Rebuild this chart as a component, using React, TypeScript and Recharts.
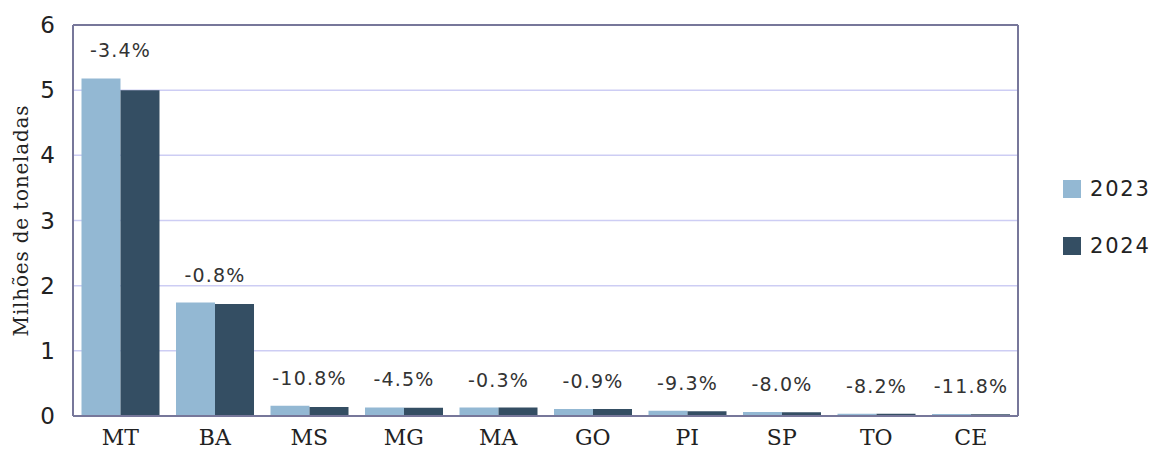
import React from 'react';
import {
  BarChart,
  Bar,
  XAxis,
  YAxis,
  CartesianGrid,
  LabelList,
} from 'recharts';

const states = ['MT', 'BA', 'MS', 'MG', 'MA', 'GO', 'PI', 'SP', 'TO', 'CE'];
const values2023 = [5.18, 1.74, 0.158, 0.132, 0.13, 0.108, 0.082, 0.062, 0.036, 0.03];
const values2024 = [5.0, 1.72, 0.138, 0.126, 0.13, 0.107, 0.074, 0.057, 0.033, 0.027];
const changes = ['-3.4%', '-0.8%', '-10.8%', '-4.5%', '-0.3%', '-0.9%', '-9.3%', '-8.0%', '-8.2%', '-11.8%'];
const yTicks = [0, 1, 2, 3, 4, 5, 6];

const LIGHT = '#93b8d3';
const DARK = '#344e63';
const FRAME = '#77779a';
const GRID = '#cdcdf4';

const data = states.map((s, i) => ({
  state: s,
  y2023: values2023[i],
  y2024: values2024[i],
  change: changes[i],
}));

const ChangeLabel = (props: any) => {
  const { x, y, width, index } = props;
  return (
    <text
      x={x + width}
      y={y - 21}
      textAnchor="middle"
      fill="#333"
      fontSize={19}
      letterSpacing={1.2}
      fontFamily="DejaVu Sans, sans-serif"
    >
      {changes[index]}
    </text>
  );
};

const AxisTitle = (props: any) => {
  const { viewBox } = props;
  const cy = viewBox.y + viewBox.height / 2;
  return (
    <text
      x={28}
      y={cy}
      transform={`rotate(-90, 28, ${cy})`}
      textAnchor="middle"
      fill="#222"
      fontSize={20}
      letterSpacing={0.8}
      fontFamily="DejaVu Serif, serif"
    >
      Milhões de toneladas
    </text>
  );
};

export default function App() {
  return (
    <div style={{ position: 'absolute', left: 0, top: 0, width: 1154, height: 454, background: '#fff' }}>
      <BarChart
        width={1154}
        height={454}
        data={data}
        margin={{ top: 24, right: 135, left: 0, bottom: 0 }}
        barCategoryGap="9%"
        barGap={0}
      >
        <CartesianGrid vertical={false} stroke={GRID} strokeWidth={1.5} />
        <XAxis
          dataKey="state"
          height={38}
          axisLine={{ stroke: FRAME, strokeWidth: 2 }}
          tickLine={false}
          tickSize={0}
          tickMargin={13}
          tick={{ fill: '#222', fontSize: 22, fontFamily: 'DejaVu Serif, serif' }}
          interval={0}
        />
        <XAxis
          xAxisId="top"
          orientation="top"
          dataKey="state"
          height={1}
          axisLine={{ stroke: FRAME, strokeWidth: 2 }}
          tick={false}
          tickLine={false}
        />
        <YAxis
          domain={[0, 6]}
          ticks={yTicks}
          width={73}
          axisLine={{ stroke: FRAME, strokeWidth: 2 }}
          tickLine={false}
          tickSize={0}
          tickMargin={18}
          tick={{ fill: '#222', fontSize: 23, fontFamily: 'DejaVu Sans, sans-serif' }}
          label={<AxisTitle />}
        />
        <YAxis
          yAxisId="right"
          orientation="right"
          width={1}
          domain={[0, 6]}
          axisLine={{ stroke: FRAME, strokeWidth: 2 }}
          tick={false}
          tickLine={false}
        />
        <Bar dataKey="y2023" fill={LIGHT} isAnimationActive={false}>
          <LabelList dataKey="change" content={<ChangeLabel />} />
        </Bar>
        <Bar dataKey="y2024" fill={DARK} isAnimationActive={false} />
      </BarChart>
      <div
        style={{
          position: 'absolute',
          left: 1063,
          top: 178,
          fontFamily: 'DejaVu Sans, sans-serif',
          fontSize: 21,
          letterSpacing: 1.8,
          color: '#222',
        }}
      >
        {[
          { name: '2023', color: LIGHT },
          { name: '2024', color: DARK },
        ].map((item, i) => (
          <div key={item.name} style={{ display: 'flex', alignItems: 'center', height: 22, marginBottom: i === 0 ? 35 : 0 }}>
            <span style={{ width: 18, height: 18, background: item.color, display: 'inline-block', marginRight: 9 }} />
            <span>{item.name}</span>
          </div>
        ))}
      </div>
    </div>
  );
}
